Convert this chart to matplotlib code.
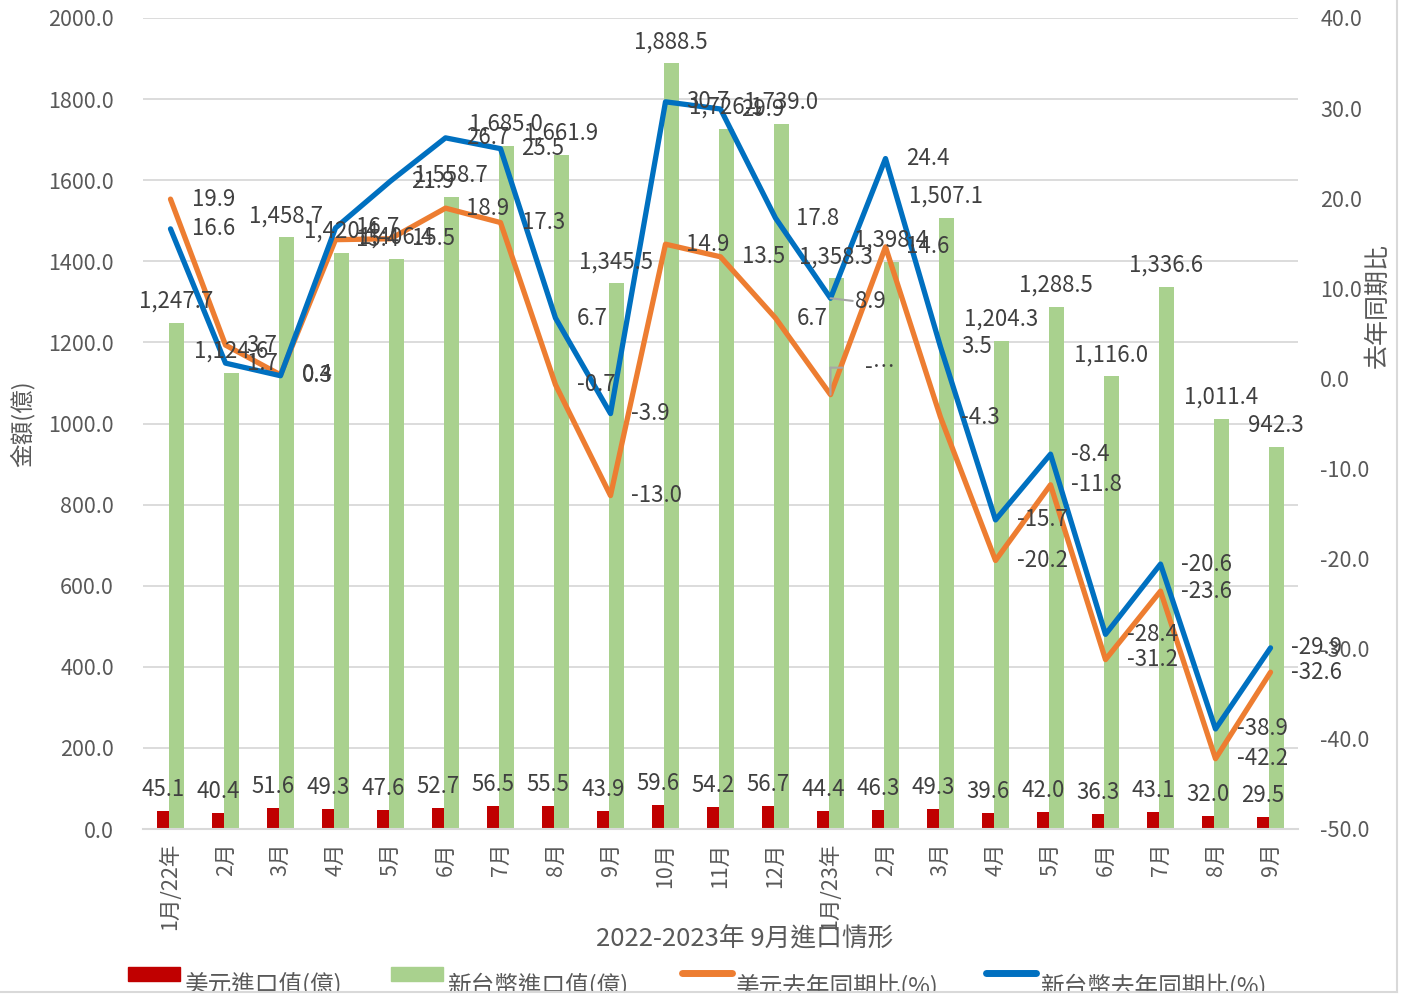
import numpy as np
import matplotlib
matplotlib.use("Agg")
import matplotlib.pyplot as plt
import matplotlib.transforms as mtransforms
from matplotlib.patches import Rectangle
from matplotlib.lines import Line2D
from matplotlib.ticker import FormatStrFormatter

plt.rcParams['font.family'] = ['Noto Sans CJK TC', 'DejaVu Sans']

# 資料
months = ['1月/22年', '2月', '3月', '4月', '5月', '6月', '7月', '8月', '9月', '10月',
          '11月', '12月', '1月/23年', '2月', '3月', '4月', '5月', '6月', '7月', '8月', '9月']
usd_import = [45.1, 40.4, 51.6, 49.3, 47.6, 52.7, 56.5, 55.5, 43.9, 59.6, 54.2,
              56.7, 44.4, 46.3, 49.3, 39.6, 42.0, 36.3, 43.1, 32.0, 29.5]
ntd_import = [1247.7, 1124.6, 1458.7, 1420.4, 1406.4, 1558.7, 1685.0, 1661.9, 1345.5, 1888.5, 1726.1,
              1739.0, 1358.3, 1398.4, 1507.1, 1204.3, 1288.5, 1116.0, 1336.6, 1011.4, 942.3]
usd_yoy = [19.9, 3.7, 0.4, 15.4, 15.5, 18.9, 17.3, -0.7, -13.0, 14.9, 13.5,
           6.7, -1.8, 14.6, -4.3, -20.2, -11.8, -31.2, -23.6, -42.2, -32.6]
ntd_yoy = [16.6, 1.7, 0.3, 16.7, 21.9, 26.7, 25.5, 6.7, -3.9, 30.7, 29.9,
           17.8, 8.9, 24.4, 3.5, -15.7, -8.4, -28.4, -20.6, -38.9, -29.9]

legend_names = ['美元進口值(億)', '新台幣進口值(億)', '美元去年同期比(%)', '新台幣去年同期比(%)']

RED = '#C00000'
GREEN = '#A9D18E'
ORANGE = '#ED7D31'
BLUE = '#0070C0'
TICK = '#595959'
LABEL = '#404040'

W, H = 1405, 999
fig = plt.figure(figsize=(W / 100, H / 100), dpi=100)
ax = fig.add_axes([143 / W, 1 - 829 / H, (1298 - 143) / W, (829 - 18) / H])
ax2 = ax.twinx()

x = np.arange(len(months))
ax.bar(x - 0.136, usd_import, width=0.21, color=RED, zorder=2)
ax.bar(x + 0.105, ntd_import, width=0.273, color=GREEN, zorder=2)

ax.set_xlim(-0.5, len(months) - 0.5)
ax.set_ylim(0, 2000)
ax.set_yticks(np.arange(0, 2001, 200))
ax.yaxis.set_major_formatter(FormatStrFormatter('%.1f'))
ax.grid(axis='y', color='#D9D9D9', lw=1.3)
ax.set_axisbelow(True)
ax.set_xticks(x)
ax.set_xticklabels(months, rotation=90, va='top', ha='center')
ax.tick_params(axis='x', length=0, pad=10, labelsize=15.5, labelcolor=TICK)
ax.tick_params(axis='y', length=0, pad=21, labelsize=15.5, labelcolor=TICK)

ax2.plot(x, usd_yoy, color=ORANGE, lw=3.8, solid_capstyle='round', solid_joinstyle='round', zorder=3)
ax2.plot(x, ntd_yoy, color=BLUE, lw=3.8, solid_capstyle='round', solid_joinstyle='round', zorder=3)
ax2.set_ylim(-50, 40)
ax2.set_yticks(np.arange(-50, 41, 10))
ax2.yaxis.set_major_formatter(FormatStrFormatter('%.1f'))
ax2.tick_params(axis='y', length=0, pad=16, labelsize=15.5, labelcolor=TICK)

for a in (ax, ax2):
    for s in a.spines.values():
        s.set_visible(False)
ax.spines['bottom'].set_visible(True)
ax.spines['bottom'].set_color('#D9D9D9')
ax.spines['bottom'].set_linewidth(1.5)

# 柱狀圖數據標籤
for xi, v in zip(x, usd_import):
    ax2.annotate(f'{v:.1f}', xy=(xi - 0.136, v), xycoords=ax.transData,
                 xytext=(0, 10), textcoords='offset pixels', ha='center', va='bottom',
                 fontsize=16, color=LABEL, zorder=5)
for xi, v in zip(x, ntd_import):
    ax2.annotate(f'{v:,.1f}', xy=(xi + 0.105, v), xycoords=ax.transData,
                 xytext=(0, 10), textcoords='offset pixels', ha='center', va='bottom',
                 fontsize=16, color=LABEL, zorder=5)

# 折線數據標籤
special = 12
for i, (vu, vn) in enumerate(zip(usd_yoy, ntd_yoy)):
    if i == special:
        continue
    ax2.annotate(f'{vu:.1f}', xy=(i, vu), xytext=(21, 0), textcoords='offset pixels',
                 ha='left', va='center', fontsize=16, color=LABEL, zorder=5)
    ax2.annotate(f'{vn:.1f}', xy=(i, vn), xytext=(21, 0), textcoords='offset pixels',
                 ha='left', va='center', fontsize=16, color=LABEL, zorder=5)

# 1月/23年 的標籤帶引導線
lead = '#A6A6A6'
ax2.annotate(f'{ntd_yoy[special]:.1f}', xy=(special, ntd_yoy[special]), xytext=(25, -3),
             textcoords='offset pixels', ha='left', va='center', fontsize=16, color=LABEL, zorder=5,
             arrowprops=dict(arrowstyle='-', color=lead, lw=1.5, shrinkA=0, shrinkB=0,
                             relpos=(0, 0.5)))
ax2.annotate('-…', xy=(special, usd_yoy[special]), xytext=(35, 27),
             textcoords='offset pixels', ha='left', va='center', fontsize=16, color=LABEL, zorder=5)
up = mtransforms.offset_copy(ax2.transData, fig=fig, x=0, y=27, units='dots')
ax2.annotate('', xy=(special, usd_yoy[special]), xytext=(0, 27), textcoords='offset pixels',
             arrowprops=dict(arrowstyle='-', color=lead, lw=1.5, shrinkA=0, shrinkB=0), zorder=4)
ax2.annotate('', xy=(special, usd_yoy[special]), xycoords=up, xytext=(12, 0),
             textcoords='offset pixels',
             arrowprops=dict(arrowstyle='-', color=lead, lw=1.5, shrinkA=0, shrinkB=0), zorder=4)

# 軸標題
fig.text(22 / W, 1 - 424 / H, '金額(億)', rotation=90, ha='center', va='center', fontsize=17, color=TICK)
fig.text(1378 / W, 1 - 305 / H, '去年同期比', rotation=90, ha='center', va='center', fontsize=18, color=TICK)
fig.text(745 / W, 1 - 938 / H, '2022-2023年 9月進口情形', ha='center', va='center', fontsize=18.5, color=TICK)

# 圖例
fig.patches.append(Rectangle((128 / W, 1 - 981 / H), 52 / W, 14 / H, color=RED, transform=fig.transFigure))
fig.patches.append(Rectangle((391 / W, 1 - 981 / H), 52 / W, 14 / H, color=GREEN, transform=fig.transFigure))
fig.lines.append(Line2D([682 / W, 732 / W], [1 - 973 / H] * 2, color=ORANGE, lw=5,
                        solid_capstyle='round', transform=fig.transFigure))
fig.lines.append(Line2D([986 / W, 1036 / W], [1 - 973 / H] * 2, color=BLUE, lw=5,
                        solid_capstyle='round', transform=fig.transFigure))
for name, lx in zip(legend_names, [185, 448, 736, 1041]):
    fig.text(lx / W, 1 - 973 / H, name, ha='left', va='top', fontsize=17, color=TICK)

# 圖表外框及底部裁切
fig.patches.append(Rectangle((0, 0), 1, 1 - 993 / H, color='white', transform=fig.transFigure, zorder=10))
fig.lines.append(Line2D([0, 1397 / W], [1 - 992 / H] * 2, color='#D9D9D9', lw=1.5,
                        transform=fig.transFigure, zorder=11))
fig.lines.append(Line2D([1397 / W] * 2, [1 - 992 / H, 1], color='#D9D9D9', lw=1.5,
                        transform=fig.transFigure, zorder=11))

fig.savefig('out.png', dpi=100)
